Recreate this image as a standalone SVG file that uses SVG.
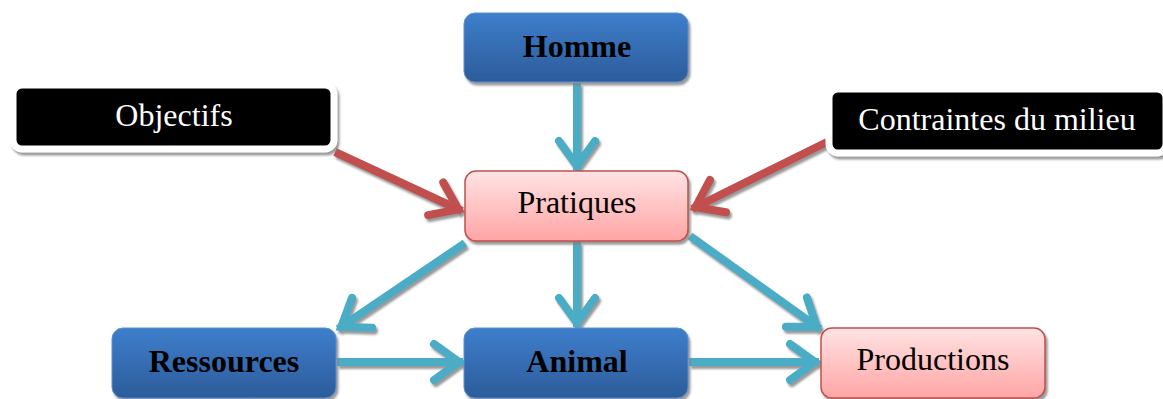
<svg xmlns="http://www.w3.org/2000/svg" width="1163" height="399" viewBox="0 0 1163 399">
  <defs>
    <linearGradient id="blue" x1="0" y1="0" x2="0" y2="1">
      <stop offset="0" stop-color="#3E7ECB"/>
      <stop offset="1" stop-color="#2C5C9B"/>
    </linearGradient>
    <linearGradient id="pink" x1="0" y1="0" x2="0" y2="1">
      <stop offset="0" stop-color="#FFE3E3"/>
      <stop offset="1" stop-color="#FFA5A5"/>
    </linearGradient>
    <filter id="sh" x="-20%" y="-20%" width="140%" height="150%">
      <feDropShadow dx="2" dy="3" stdDeviation="1" flood-color="#808080" flood-opacity="0.8"/>
    </filter>
    <marker id="hc" markerUnits="userSpaceOnUse" viewBox="-45 -30 60 60" markerWidth="60" markerHeight="60" refX="0" refY="0" orient="auto" overflow="visible">
      <path d="M-29,-18 L-4,0 L-29,18" fill="none" stroke="#4BACC6" stroke-width="8" stroke-linecap="round" stroke-linejoin="miter"/>
    </marker>
    <marker id="hr" markerUnits="userSpaceOnUse" viewBox="-45 -30 60 60" markerWidth="60" markerHeight="60" refX="0" refY="0" orient="auto" overflow="visible">
      <path d="M-29,-18 L-4,0 L-29,18" fill="none" stroke="#C0504D" stroke-width="8" stroke-linecap="round" stroke-linejoin="miter"/>
    </marker>
  </defs>
  <style>
    .bl { fill: url(#blue); stroke: #5B8FD0; stroke-width: 1; filter: url(#sh); }
    .pk { fill: url(#pink); stroke: #C0504D; stroke-width: 1.5; filter: url(#sh); }
    .bk { fill: #000; stroke: #fff; stroke-width: 7; filter: url(#sh); }
    .tb { font-family: "Liberation Serif", "Times New Roman", serif; font-size: 32px; font-weight: bold; fill: #000; text-anchor: middle; }
    .tn { font-family: "Liberation Serif", "Times New Roman", serif; font-size: 32px; fill: #000; text-anchor: middle; }
    .tw { font-family: "Liberation Serif", "Times New Roman", serif; font-size: 32px; fill: #fff; text-anchor: middle; }
    .ac { fill: none; stroke: #4BACC6; stroke-width: 8; marker-end: url(#hc); }
    .ar { fill: none; stroke: #C0504D; stroke-width: 8; marker-end: url(#hr); }
  </style>

  <g id="connectors" filter="url(#sh)">
    <line class="ac" x1="577" y1="83" x2="577" y2="170"/>
    <line class="ar" x1="335" y1="152" x2="462" y2="211"/>
    <line class="ar" x1="827" y1="142" x2="692" y2="209"/>
    <line class="ac" x1="465" y1="243" x2="338" y2="329"/>
    <line class="ac" x1="577" y1="242" x2="577" y2="327"/>
    <line class="ac" x1="690" y1="236" x2="820" y2="329"/>
    <line class="ac" x1="337" y1="362" x2="463" y2="362"/>
    <line class="ac" x1="689" y1="362" x2="819" y2="362"/>
  </g>

  <g id="homme">
    <rect class="bl" x="464" y="13" width="224" height="69" rx="11"/>
    <text class="tb" x="577" y="57">Homme</text>
  </g>
  <g id="objectifs">
    <rect class="bk" x="13" y="85" width="321" height="64" rx="9"/>
    <text class="tw" x="174" y="126">Objectifs</text>
  </g>
  <g id="contraintes">
    <rect class="bk" x="829" y="89" width="337" height="64" rx="9"/>
    <text class="tw" x="997" y="130">Contraintes du milieu</text>
  </g>
  <g id="pratiques">
    <rect class="pk" x="465" y="171" width="223" height="70" rx="11"/>
    <text class="tn" x="577" y="213">Pratiques</text>
  </g>
  <g id="ressources">
    <rect class="bl" x="112" y="328" width="224" height="70" rx="11"/>
    <text class="tb" x="224" y="372">Ressources</text>
  </g>
  <g id="animal">
    <rect class="bl" x="464" y="328" width="224" height="70" rx="11"/>
    <text class="tb" x="577" y="372">Animal</text>
  </g>
  <g id="productions">
    <rect class="pk" x="821" y="328" width="224" height="70" rx="11"/>
    <text class="tn" x="933" y="370">Productions</text>
  </g>
</svg>
